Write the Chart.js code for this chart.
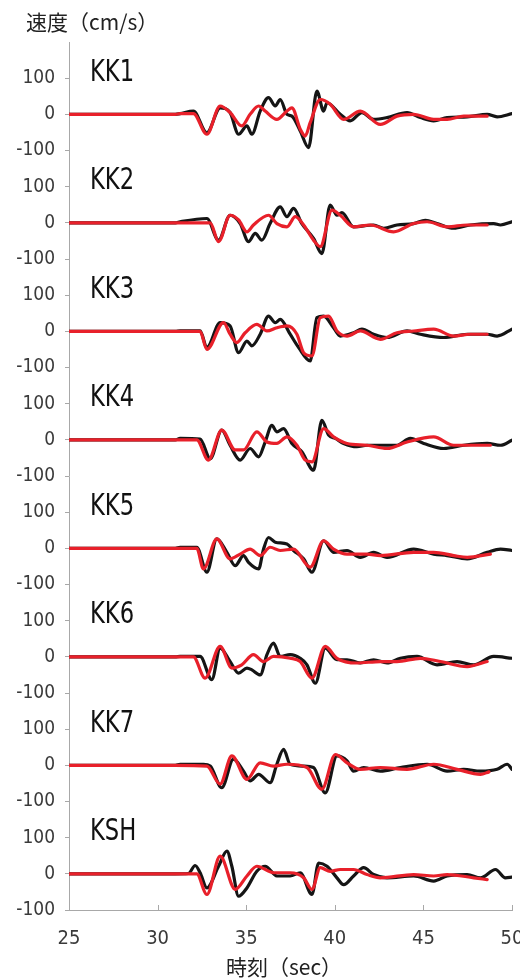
<!DOCTYPE html>
<html><head><meta charset="utf-8">
<script src="https://cdn.jsdelivr.net/npm/chart.js@4/dist/chart.umd.min.js"></script>
<style>html,body{margin:0;padding:0;background:#fff}#wrap{width:520px;height:980px;position:relative}</style>
</head><body><div id="wrap"><canvas id="c" width="520" height="980"></canvas></div>
<script>
// ---- data (time [sec], velocity [cm/s]) ----
const stations = ["KK1","KK2","KK3","KK4","KK5","KK6","KK7","KSH"];
const xTicks = [25,30,35,40,45,50];
const yTickLabels = ["0","100","-100"]; // label by (value mod 300)/100
const yTitle = "速度（cm/s）";
const xTitle = "時刻（sec）";

const kk1Obs = [[25,0],[31,0],[31.27,2],[32.02,9],[32.78,-51],[33.53,18],[34.09,5],[34.57,-55],[35.04,-32],[35.32,-55],[35.79,9],[36.26,46],[36.64,23],[36.92,41],[37.3,0],[37.58,-5],[38.05,-46],[38.52,-92],[38.99,64],[39.37,9],[39.56,32],[40.31,0],[40.87,-18],[41.53,5],[42.19,-14],[42.95,-9],[44.08,5],[44.83,-9],[45.58,-18],[46.34,-9],[47.47,-7],[48.6,0],[49.16,-7],[50,2]];
const kk1Sim = [[25,0],[31,0],[31.27,2],[32.02,2],[32.78,-55],[33.53,23],[34.09,5],[34.75,-32],[35.22,0],[35.7,23],[36.07,9],[36.73,-14],[37.3,9],[37.58,18],[38.05,-41],[38.33,-60],[38.61,-23],[39.18,41],[39.74,28],[40.5,-14],[41.44,9],[42.57,-28],[43.51,-5],[44.45,0],[45.58,-14],[46.34,-14],[47.28,-5],[48.6,-5]];

const kk2Obs = [[25,0],[31,0],[31.27,3],[32.78,12],[33.44,-48],[34.09,21],[34.66,-2],[35.13,-52],[35.51,-29],[35.88,-48],[36.35,-2],[36.92,44],[37.3,17],[37.67,40],[38.14,-2],[38.8,-43],[39.27,-85],[39.74,49],[40.12,21],[40.4,28],[41.06,-11],[42.19,-6],[42.76,-15],[43.51,-6],[44.45,-2],[45.11,7],[45.77,-2],[46.71,-15],[47.65,-6],[48.97,-2],[49.35,-6],[50,3]];
const kk2Sim = [[25,0],[31,0],[32.97,0],[33.44,-52],[34.09,21],[34.57,8],[35.04,-25],[35.41,-6],[36.26,21],[36.73,-2],[37.3,-11],[37.77,17],[38.24,-6],[38.8,-48],[39.18,-66],[39.84,35],[40.31,21],[41.06,-11],[42,-6],[43.32,-25],[44.45,-2],[45.21,3],[46.34,-11],[47.47,-6],[48.6,-6]];

const kk3Obs = [[25,0],[31,0],[31.27,1],[32.4,1],[32.78,-45],[33.53,24],[34.09,15],[34.57,-59],[35.04,-27],[35.32,-40],[35.79,-8],[36.26,42],[36.64,24],[36.92,33],[37.48,-8],[37.96,-45],[38.61,-82],[38.99,38],[39.37,42],[39.93,10],[40.31,-13],[41.06,-4],[41.53,6],[42.19,-8],[42.95,-17],[44.08,1],[44.83,-8],[46.15,-17],[47.47,-8],[48.6,-8],[49.16,-13],[50,6]];
const kk3Sim = [[25,0],[31,0],[32.4,0],[32.78,-50],[33.72,24],[34.09,-8],[34.47,-31],[34.94,-4],[35.6,19],[36.17,1],[36.73,10],[37.3,15],[37.86,-8],[38.24,-59],[38.71,-68],[39.18,38],[39.65,42],[40.12,1],[40.69,-13],[41.44,1],[42.57,-22],[43.51,-4],[44.45,1],[45.58,6],[46.71,-13],[47.65,-8],[48.6,-8]];

const kk4Obs = [[25,0],[31,0],[31.27,4],[32.4,2],[32.97,-52],[33.62,27],[34.09,-15],[34.66,-56],[35.22,-24],[35.7,-47],[36.07,-6],[36.45,40],[36.73,22],[37.11,31],[37.58,-10],[38.14,-33],[38.8,-84],[39.27,54],[39.65,13],[40.03,4],[40.5,-10],[41.25,-19],[41.82,-15],[42.57,-15],[43.51,-15],[44.26,4],[45.02,-10],[46.15,-24],[47.28,-15],[48.6,-10],[49.35,-15],[50,-1]];
const kk4Sim = [[25,0],[31,0],[32.21,0],[32.87,-56],[33.62,27],[34.38,-28],[34.85,-28],[35.6,22],[36.17,-6],[36.73,-10],[37.3,8],[37.86,-15],[38.33,-56],[38.71,-61],[39.37,31],[39.93,8],[40.69,-10],[41.82,-15],[42.95,-24],[44.08,-6],[45.58,8],[46.71,-15],[47.84,-15],[48.78,-15]];

const kk5Obs = [[25,0],[31,0],[31.27,3],[32.21,3],[32.78,-66],[33.34,26],[33.91,-11],[34.38,-48],[34.85,-20],[35.13,-39],[35.7,-57],[35.98,-2],[36.26,30],[36.64,17],[37.3,12],[37.67,-6],[38.24,-29],[38.71,-66],[39.37,21],[39.93,-11],[40.69,-6],[41.44,-25],[42.19,-11],[42.95,-25],[44.45,-2],[45.58,-16],[46.34,-20],[47.47,-29],[48.6,-11],[49.35,-2],[50,-6]];
const kk5Sim = [[25,0],[31,0],[32.21,0],[32.59,-57],[33.34,26],[34.09,-29],[34.66,-16],[35.22,-2],[35.79,-20],[36.35,3],[36.92,-6],[37.67,-2],[38.61,-52],[39.37,21],[39.93,-2],[40.69,-16],[41.82,-16],[42.57,-20],[44.45,-11],[45.58,-11],[46.71,-20],[47.47,-25],[48.78,-16]];

const kk6Obs = [[25,0],[31,0],[31.27,1],[32.4,1],[33.06,-63],[33.53,24],[34.09,-13],[34.57,-45],[35.04,-31],[35.32,-36],[35.79,-50],[36.17,6],[36.54,38],[36.92,1],[37.48,6],[38.05,-4],[38.43,-22],[38.9,-73],[39.46,24],[40.12,-8],[40.69,-8],[41.44,-17],[42.19,-8],[42.95,-17],[43.7,-4],[44.64,1],[45.77,-22],[46.9,-13],[47.84,-22],[48.97,1],[50,-4]];
const kk6Sim = [[25,0],[31,0],[32.02,0],[32.68,-59],[33.53,29],[34.19,-31],[34.75,-22],[35.41,6],[35.98,-13],[36.54,1],[37.48,-4],[38.05,-13],[38.71,-59],[39.46,29],[40.12,-4],[41.25,-17],[42.57,-13],[43.51,-13],[44.83,-4],[45.96,-13],[47.47,-27],[48.6,-13]];

const kk7Obs = [[25,0],[31,0],[31.27,3],[32.59,3],[32.97,-2],[33.62,-62],[34.28,17],[34.85,-16],[35.22,-43],[35.7,-25],[36.35,-48],[36.73,3],[37.11,44],[37.48,3],[38.24,-2],[38.8,-6],[39.46,-76],[40.12,26],[40.69,12],[41.06,-16],[41.63,-6],[42.57,-16],[43.7,-6],[45.21,3],[46.34,-16],[47.28,-11],[48.22,-16],[49.16,-11],[49.73,3],[50,-11]];
const kk7Sim = [[25,0],[31,0],[32.78,-2],[33.53,-52],[34.19,26],[35.04,-39],[35.79,7],[36.54,-2],[37.3,3],[38.43,-6],[39.27,-66],[40.03,30],[40.69,7],[41.44,-11],[42.57,-6],[44.08,-11],[45.58,3],[46.9,-11],[48.22,-25],[48.7,-18]];

const kshObs = [[25,0],[31,0],[31.74,1],[32.12,23],[32.4,3],[32.78,-39],[33.44,21],[33.91,63],[34.19,21],[34.57,-62],[35.04,-39],[35.6,7],[36.07,21],[36.73,-6],[37.48,-6],[38.05,3],[38.71,-57],[39.09,30],[39.56,21],[40.12,-11],[40.5,-30],[41.06,-6],[41.63,17],[42.19,-2],[42.95,-11],[44.45,-6],[45.58,-20],[46.34,-6],[47.47,-2],[48.22,-11],[49.07,12],[49.63,-11],[50,-9]];
const kshSim = [[25,0],[31,0],[32.21,0],[32.78,-57],[33.53,49],[34.38,-43],[35.04,-6],[35.6,21],[36.54,3],[37.48,3],[38.24,-11],[38.71,-43],[39.18,17],[39.74,7],[40.31,12],[41.06,12],[41.82,-2],[42.57,-11],[44.45,-2],[45.58,-6],[46.34,-2],[47.84,-11],[48.6,-16]];

const observed = [kk1Obs,kk2Obs,kk3Obs,kk4Obs,kk5Obs,kk6Obs,kk7Obs,kshObs];
const simulated = [kk1Sim,kk2Sim,kk3Sim,kk4Sim,kk5Sim,kk6Sim,kk7Sim,kshSim];

// ---- chart ----
const PANEL_STEP = 300; // each station trace shifted down by 300 cm/s
const NARROW = '"Liberation Sans Narrow","DejaVu Sans Condensed","Arial Narrow",sans-serif';
const CJK = '"Noto Sans CJK JP","Noto Sans CJK SC",sans-serif';
const AXIS_GRAY = '#a8a8a8';

const datasets = [];
stations.forEach((s, k) => {
  const off = -PANEL_STEP * k;
  datasets.push({
    label: s + ' obs',
    data: observed[k].map(([t, v]) => ({x: t, y: v + off})),
    borderColor: '#151515', order: 2
  });
  datasets.push({
    label: s + ' sim',
    data: simulated[k].map(([t, v]) => ({x: t, y: v + off})),
    borderColor: '#e8202a', order: 1
  });
});

const textPlugin = {
  id: 'texts',
  afterDraw(chart) {
    const ctx = chart.ctx;
    const xs = chart.scales.x, ys = chart.scales.y;
    const ca = chart.chartArea;
    ctx.save();
    // inner x tick marks
    ctx.strokeStyle = AXIS_GRAY; ctx.lineWidth = 1;
    xTicks.forEach(v => {
      if (v === xs.min) return;
      const px = Math.round(xs.getPixelForValue(v)) + 0.5;
      ctx.beginPath(); ctx.moveTo(px, ca.bottom); ctx.lineTo(px, ca.bottom - 5); ctx.stroke();
    });
    // station labels (tall, condensed lettering)
    ctx.fillStyle = '#111';
    ctx.font = '30px ' + NARROW;
    ctx.textAlign = 'left'; ctx.textBaseline = 'middle';
    stations.forEach((s, k) => {
      const py = ys.getPixelForValue(-PANEL_STEP * k + 100) - 5;
      ctx.save();
      ctx.translate(ca.left + 21, py);
      ctx.scale(0.84, 1);
      ctx.fillText(s, 0, 0);
      ctx.restore();
    });
    // titles
    ctx.fillStyle = '#222';
    ctx.font = '21px ' + CJK;
    ctx.textAlign = 'left';
    ctx.fillText(yTitle, 26, 22);
    ctx.textAlign = 'center';
    ctx.fillText(xTitle, 284, 967);
    ctx.restore();
  }
};

new Chart(document.getElementById('c'), {
  type: 'line',
  data: {datasets},
  options: {
    responsive: false,
    animation: false,
    events: [],
    layout: {padding: {top: 42, right: 8, left: 0, bottom: 0}},
    elements: {
      point: {radius: 0},
      line: {borderWidth: 3.2, cubicInterpolationMode: 'monotone', borderCapStyle: 'round', borderJoinStyle: 'round'}
    },
    plugins: {legend: {display: false}, tooltip: {enabled: false}},
    scales: {
      x: {
        type: 'linear', min: 25, max: 50,
        afterBuildTicks(scale) { scale.ticks = xTicks.map(v => ({value: v})); },
        ticks: {font: {size: 20, family: NARROW}, color: '#3a3a3a', padding: 17, maxRotation: 0, autoSkip: false},
        grid: {drawOnChartArea: false, drawTicks: false, color: AXIS_GRAY},
        border: {display: true, color: AXIS_GRAY, width: 1},
        afterFit(scale) { scale.height = 70; scale.paddingLeft = 0; scale.paddingRight = 0; }
      },
      y: {
        type: 'linear', min: -2200, max: 200,
        afterBuildTicks(scale) {
          const list = [];
          for (let v = -2200; v < 200; v += 100) list.push({value: v});
          scale.ticks = list;
        },
        ticks: {
          font: {size: 19, family: NARROW}, color: '#3a3a3a', padding: 10, autoSkip: false,
          callback: (v) => yTickLabels[(((Math.round(v) % PANEL_STEP) + PANEL_STEP) % PANEL_STEP) / 100]
        },
        grid: {drawOnChartArea: false, drawTicks: true, tickLength: 4, color: AXIS_GRAY},
        border: {display: true, color: AXIS_GRAY, width: 1},
        afterFit(scale) { scale.width = 69; scale.paddingTop = 0; scale.paddingBottom = 0; }
      }
    }
  },
  plugins: [textPlugin]
});
</script>
</body></html>
